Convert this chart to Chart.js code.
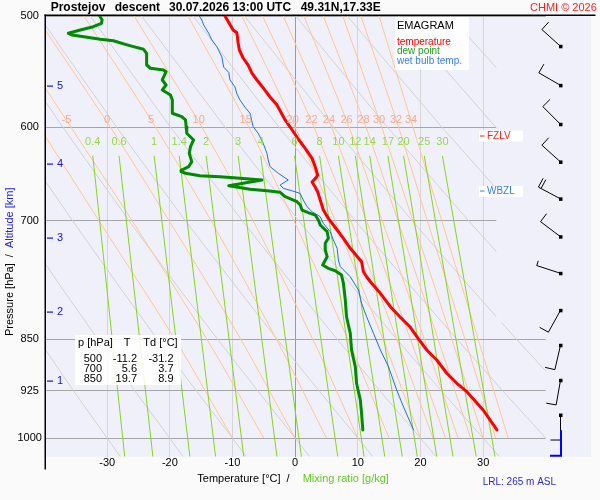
<!DOCTYPE html>
<html>
<head>
<meta charset="utf-8">
<script src="https://cdn.jsdelivr.net/npm/chart.js@4.4.1/dist/chart.umd.min.js"></script>
<style>
html, body { margin: 0; padding: 0; background: #fafafa; overflow: hidden; }
canvas { display: block; }
</style>
</head>
<body>
<canvas id="emagram" width="600" height="500"></canvas>
<script>
const FONT = "'Liberation Sans', Arial, sans-serif";
const PLOT_BG = '#f0f0fb';

// sounding profiles (pressure hPa / temperature degC)
const tempP = [500, 511.6, 514, 522.7, 528.7, 535.7, 541.9, 549.2, 555.4, 562.7, 571.1, 578.7, 593.1, 600, 612.9, 621.4, 631.7, 640.5, 649.4, 653, 656.6, 662.1, 667.6, 676.4, 687.6, 697.1, 700, 710.5, 720.3, 732.2, 748.5, 760.9, 767.2, 775.5, 788.4, 805.9, 819.3, 832.8, 850, 865.3, 879.6, 899, 913.9, 926.6, 954.9, 986.7];
const tempT = [-11.2, -9.9, -9.3, -9.1, -8.9, -8.3, -7.5, -6.9, -6.1, -5.1, -4.0, -2.9, -1.6, -0.8, 0.6, 1.6, 2.7, 3.2, 3.6, 3.2, 2.7, 3.2, 3.6, 4.0, 4.5, 5.3, 5.6, 6.7, 7.7, 8.8, 10.6, 10.9, 11.4, 12.2, 13.6, 15.2, 16.7, 18.3, 19.7, 21.0, 22.6, 24.2, 25.8, 27.4, 30.0, 32.2];

const dewP = [500, 503.3, 506, 508.9, 511.6, 514.4, 515.8, 517.8, 519.5, 520.7, 523.8, 525.8, 528.1, 531.6, 541.9, 544.8, 546.4, 547.9, 555.4, 560, 564.6, 569.2, 574, 586.6, 589.9, 593.1, 599.7, 606.2, 612.9, 619.7, 626.5, 635.1, 640.4, 643.9, 645.6, 647.3, 649.9, 651, 652.7, 654.5, 660.7, 664.6, 666.2, 667.9, 672.7, 678.3, 682, 687.6, 690.6, 693.3, 699, 704.7, 712.5, 720.3, 726.2, 734.2, 742.4, 752.6, 756.7, 759.7, 765.1, 775.5, 797, 819.3, 841.9, 865.3, 889.4, 913.9, 939.3, 960.1, 986.7];
const dewT = [-31.2, -30.8, -30.9, -32.2, -34.3, -36.2, -35.6, -33.2, -31.1, -29.0, -27.1, -25.8, -24.2, -23.7, -23.7, -23.1, -21.0, -20.6, -21.2, -20.6, -21.2, -19.9, -19.6, -19.6, -18.1, -17.5, -17.4, -17.3, -16.2, -16.7, -16.9, -16.5, -17.0, -18.1, -18.2, -17.5, -15.2, -12.0, -8.8, -5.3, -10.6, -7.2, -4.5, -2.4, -1.6, 0.3, 0.8, 1.1, 2.1, 3.2, 3.7, 4.0, 5.1, 5.3, 4.8, 4.8, 5.1, 4.4, 5.3, 6.4, 7.4, 7.7, 8.0, 8.2, 8.8, 9.0, 9.6, 9.8, 10.4, 10.6, 10.8];

const wetP = [500, 503.3, 507.4, 514.4, 520, 525.8, 534.7, 543.8, 548.5, 555.4, 561.8, 568.1, 574, 580.9, 586.6, 599.7, 606.2, 616.3, 626.5, 633.4, 640.4, 647.3, 654.5, 659.9, 663.5, 667.3, 669.1, 676.4, 683.9, 689.5, 695.2, 702.8, 712.5, 722.3, 732.2, 746.4, 754.6, 767.2, 784.1, 801.3, 819.3, 841.9, 865.3, 889.4, 924, 950.2, 986.7];
const wetT = [-15.3, -14.9, -14.6, -13.8, -13.3, -12.5, -11.7, -11.4, -10.6, -10.4, -9.6, -9.3, -8.8, -8.0, -7.2, -6.7, -5.9, -5.1, -4.5, -4.3, -4.0, -2.7, -1.1, -2.4, -1.9, 0.0, 0.8, 1.3, 1.9, 2.7, 4.0, 4.5, 5.6, 6.1, 6.7, 6.9, 7.2, 8.8, 10.1, 10.6, 11.4, 12.5, 13.6, 14.9, 16.2, 17.3, 18.9];

// small table, lower left
const tableP = [500, 700, 850];
const tableT = [-11.2, 5.6, 19.7];
const tableTd = [-31.2, 3.7, 8.9];

// wind barbs (right column)
const barbP = [525.5, 560.3, 597.3, 635.4, 675.1, 718.4, 762.9, 810.7, 858.6, 909.4, 962.8];
const barbDir = [312, 300, 315, 312, 298, 307, 288, 209, 193, 190, 180];
const barbKt = [10, 10, 10, 10, 20, 10, 5, 10, 10, 10, 10];

// altitude marks (km) on the pressure axis
const altKm = [1, 2, 3, 4, 5];
const altP = [910, 813, 720, 638, 561];

const isobars = [500, 600, 700, 850, 925, 1000];
const isothermLabels = [-30, -20, -10, 0, 10, 20, 30];
const fzlvP = 609;
const wbzlP = 667;
const launchP = 987;

// mixing ratio lines (g/kg): dew point at top (629 hPa) and bottom (1031 hPa)
const mixRatio = [0.4, 0.6, 1, 1.4, 2, 3, 4, 6, 8, 10, 12, 14, 17, 20, 25, 30];
const mixTopT = [-32.3, -28.1, -22.5, -18.5, -14.2, -9.1, -5.5, -0.1, 3.9, 6.9, 9.6, 11.9, 14.8, 17.3, 20.6, 23.5];
const mixBottomT = [-27.2, -22.7, -16.8, -12.7, -8.2, -2.9, 1.0, 6.8, 11.0, 14.3, 17.1, 19.5, 22.6, 25.2, 28.9, 31.9];
const mixTopP = 629, mixBottomP = 1031, mixLabelP = 615;

// moist adiabats, labelled at ~593 hPa
const moistLevels = [1000, 850, 700, 600, 500];
const moistT1000 = [-10, -5, 0, 5, 10, 15, 20, 22, 24, 26, 28, 30, 32, 34];
const moistT850 = [-19.2, -14.1, -8.7, -3.0, 2.8, 8.4, 14.0, 16.2, 18.4, 20.6, 22.8, 25.0, 27.1, 29.2];
const moistT700 = [-31.3, -26.0, -20.1, -13.4, -6.7, -0.2, 6.4, 8.9, 11.4, 13.9, 16.4, 18.8, 21.1, 23.4];
const moistT600 = [-40.8, -35.8, -29.5, -22.3, -14.9, -7.4, 0.0, 3.0, 5.8, 8.6, 11.3, 13.8, 16.5, 18.8];
const moistT500 = [-52.0, -47.4, -41.4, -33.7, -25.7, -17.1, -8.5, -5.2, -1.9, 1.4, 4.5, 7.6, 10.5, 13.4];
const moistLabels = [-5, 0, 5, 10, 15, 20, 22, 24, 26, 28, 30, 32, 34];
const moistLabelT = [-36.5, -30.0, -23.0, -15.4, -7.9, -0.4, 2.6, 5.4, 8.2, 10.9, 13.4, 16.1, 18.5];
const moistLabelP = 593;

// dry adiabats (theta in degC), temperatures at dryLevels
const dryLevels = [1031, 1000, 925, 850, 775, 700, 600, 500];
const dryTheta = [-30, -20, -10, 0, 10, 20, 30, 40, 50, 60, 70, 80, 90];
const dryRows = [
  [-27.9, -30, -35.4, -41.0, -47.1, -53.6, -63.1, -73.7],
  [-17.9, -20, -25.6, -31.5, -37.8, -44.5, -54.4, -65.5],
  [-7.8, -10, -15.8, -22.0, -28.5, -35.5, -45.8, -57.3],
  [2.3, 0, -6.0, -12.4, -19.2, -26.5, -37.1, -49.1],
  [12.4, 10, 3.8, -2.9, -9.9, -17.5, -28.5, -40.9],
  [22.5, 20, 13.5, 6.7, -0.6, -8.4, -19.9, -32.7],
  [32.6, 30, 23.3, 16.2, 8.7, 0.6, -11.2, -24.5],
  [42.7, 40, 33.1, 25.8, 18.0, 9.6, -2.6, -16.3],
  [52.7, 50, 42.9, 35.3, 27.3, 18.7, 6.1, -8.1],
  [62.8, 60, 52.7, 44.9, 36.6, 27.7, 14.7, 0.1],
  [72.9, 70, 62.4, 54.4, 45.9, 36.7, 23.4, 8.3],
  [83.0, 80, 72.2, 64.0, 55.2, 45.8, 32.0, 16.5],
  [93.1, 90, 82.0, 73.5, 64.5, 54.8, 40.6, 24.7]
];

const pts = (ps, ts) => ps.map((p, i) => ({ x: ts[i], y: p }));
const line = (data, color, width, order, extra) => Object.assign({
  data, borderColor: color, borderWidth: width, showLine: true,
  pointRadius: 0, pointHoverRadius: 0, fill: false, order
}, extra || {});
const profileStyle = { borderJoinStyle: 'round', borderCapStyle: 'round' };

const datasets = [
  line(pts(tempP, tempT), '#ff0000', 3, 1, profileStyle),
  line(pts(dewP, dewT), '#008a00', 3, 2, profileStyle),
  line(pts(wetP, wetT), '#1f6fe8', 1, 3, profileStyle)
];
mixRatio.forEach((w, i) => {
  datasets.push(line([{ x: mixTopT[i], y: mixTopP }, { x: mixBottomT[i], y: mixBottomP }], '#86d41c', 1, 5));
});
moistT1000.forEach((t, i) => {
  datasets.push(line(pts(moistLevels, [t, moistT850[i], moistT700[i], moistT600[i], moistT500[i]]), '#ffc68e', 1, 6, { tension: 0.3 }));
});
dryTheta.forEach((th, i) => {
  datasets.push(line(pts(dryLevels, dryRows[i]), '#d2d2d2', 1, 7));
});

function txt(c, s, x, y, font, color, align) {
  c.font = font;
  c.fillStyle = color;
  c.textAlign = align || 'left';
  c.textBaseline = 'middle';
  c.fillText(s, x, y);
}

const emagramDecor = {
  id: 'emagramDecor',
  beforeDraw(chart) {
    const c = chart.ctx, a = chart.chartArea;
    c.save();
    c.fillStyle = '#fafafa';
    c.fillRect(0, 0, chart.width, chart.height);
    c.fillStyle = PLOT_BG;
    c.fillRect(a.left, a.top, 591 - a.left, a.bottom - a.top);
    c.restore();
  },
  afterDraw(chart) {
    const c = chart.ctx, a = chart.chartArea;
    const xs = chart.scales.x, ys = chart.scales.y;
    const X = v => xs.getPixelForValue(v);
    const Y = v => ys.getPixelForValue(v);
    c.save();

    // upper right part of the diagram is left empty
    c.fillStyle = PLOT_BG;
    c.fillRect(X(32.1), a.top + 1, a.right - X(32.1) + 1, Y(826) - a.top);

    // line labels
    moistLabels.forEach((v, i) => txt(c, String(v), X(moistLabelT[i]), Y(moistLabelP), '11px ' + FONT, '#f8aa92', 'center'));
    mixRatio.forEach((w, i) => txt(c, String(w), X(mixTopT[i]), Y(mixLabelP), '11px ' + FONT, '#95d84c', 'center'));

    // legend
    c.fillStyle = 'rgba(255,255,255,0.92)';
    c.fillRect(395, 17, 74, 53);
    txt(c, 'EMAGRAM', 397, 26, '11px ' + FONT, '#000');
    txt(c, 'temperature', 397, 42, '10px ' + FONT, '#ff0000');
    txt(c, 'dew point', 397, 51.7, '10px ' + FONT, '#22a022');
    txt(c, 'wet bulb temp.', 397, 61.7, '10px ' + FONT, '#3a80ee');

    // value table
    c.fillStyle = 'rgba(255,255,255,0.88)';
    c.fillRect(75, 335, 106, 50);
    txt(c, 'p [hPa]', 78, 343.3, '11px ' + FONT, '#000');
    txt(c, 'T', 127, 343.3, '11px ' + FONT, '#000', 'center');
    txt(c, 'Td [°C]', 143.3, 343.3, '11px ' + FONT, '#000');
    tableP.forEach((p, i) => {
      const y = 359 + i * 10.2;
      txt(c, String(p), 102, y, '11px ' + FONT, '#000', 'right');
      txt(c, tableT[i].toFixed(1), 137, y, '11px ' + FONT, '#000', 'right');
      txt(c, tableTd[i].toFixed(1), 173.5, y, '11px ' + FONT, '#000', 'right');
    });

    // freezing level / wet bulb zero
    [[fzlvP, 'FZLV', '#ff2020'], [wbzlP, 'WBZL', '#3a7be0']].forEach(([p, s, col]) => {
      const y = Y(p);
      c.fillStyle = '#ffffff';
      c.fillRect(479, y - 5.5, 44, 11);
      c.fillStyle = col;
      c.fillRect(480, Math.round(y) - 0.5, 4.5, 1);
      txt(c, s, 487, y, '10px ' + FONT, col);
    });

    // wind barbs
    c.strokeStyle = '#000';
    c.lineWidth = 1;
    barbP.forEach((p, i) => {
      const x0 = 560.5, y0 = Y(p);
      const r = barbDir[i] * Math.PI / 180;
      const ux = Math.sin(r), uy = -Math.cos(r);
      const nx = -uy, ny = ux;
      const ex = x0 + ux * 25, ey = y0 + uy * 25;
      c.beginPath();
      c.moveTo(x0, y0);
      c.lineTo(ex, ey);
      let s = barbKt[i], off = 0;
      while (s >= 10) {
        const bx = ex - ux * off, by = ey - uy * off;
        c.moveTo(bx, by);
        c.lineTo(bx + nx * 10, by + ny * 10);
        s -= 10; off += 3;
      }
      if (s >= 5) {
        const bx = ex - ux * off, by = ey - uy * off;
        c.moveTo(bx, by);
        c.lineTo(bx + nx * 5, by + ny * 5);
      }
      c.stroke();
      c.fillStyle = '#000';
      c.fillRect(x0 - 1.5, y0 - 1.5, 3.5, 3.5);
    });
    // launch level marker
    c.strokeStyle = '#0000ff';
    c.lineWidth = 2;
    c.beginPath();
    c.moveTo(561, Y(launchP));
    c.lineTo(561, a.bottom - 1);
    c.lineTo(550, a.bottom - 1);
    c.stroke();

    // altitude marks
    altKm.forEach((k, i) => {
      const y = Y(altP[i]);
      c.fillStyle = '#1414e0';
      c.fillRect(47, Math.round(y) - 0.5, 6, 1.2);
      txt(c, String(k), 57, y, '11px ' + FONT, '#1414e0');
    });

    // axes
    c.fillStyle = '#000';
    c.fillRect(44.5, 14.5, 1.5, 455);
    c.fillRect(44.5, 14.5, 551, 1.5);
    isobars.forEach(p => txt(c, String(p), 29.7, Y(p), '11px ' + FONT, '#000', 'center'));
    isothermLabels.forEach(t => txt(c, String(t), X(t), 462.5, '11px ' + FONT, '#000', 'center'));

    txt(c, 'Temperature [°C]', 197.3, 479, '11px ' + FONT, '#000');
    txt(c, '/', 288, 479, '11px ' + FONT, '#000', 'center');
    txt(c, 'Mixing ratio [g/kg]', 302.7, 479, '11px ' + FONT, '#5fcc22');

    c.save();
    c.translate(9.5, 336);
    c.rotate(-Math.PI / 2);
    const head = 'Pressure [hPa]  /  ';
    txt(c, head, 0, 0, '11px ' + FONT, '#000');
    txt(c, 'Altitude [km]', c.measureText(head).width, 0, '11px ' + FONT, '#2222ee');
    c.restore();

    // header
    const tf = 'bold 12px ' + FONT;
    txt(c, 'Prostejov', 50.7, 7.5, tf, '#000');
    txt(c, 'descent', 114.7, 7.5, tf, '#000');
    txt(c, '30.07.2026 13:00 UTC', 169, 7.5, tf, '#000');
    txt(c, '49.31N,17.33E', 300.7, 7.5, tf, '#000');
    txt(c, 'CHMI © 2026', 530, 7.5, '11px ' + FONT, '#ff1e1e');
    txt(c, 'LRL: 265 m ASL', 482.7, 482, '10px ' + FONT, '#2a2ae0');

    c.restore();
  }
};

const chart = new Chart(document.getElementById('emagram').getContext('2d'), {
  type: 'scatter',
  data: { datasets },
  options: {
    responsive: false,
    animation: false,
    devicePixelRatio: 1,
    events: [],
    layout: { padding: { left: 44.5, right: 54.2, top: 16, bottom: 43.3 } },
    plugins: { legend: { display: false }, tooltip: { enabled: false } },
    scales: {
      x: {
        type: 'linear', min: -40, max: 40,
        ticks: { display: false, stepSize: 10 },
        grid: {
          drawTicks: false,
          color: ctx => ctx.tick.value === 0 ? '#9a9a9a' : (Math.abs(ctx.tick.value) === 40 ? 'rgba(0,0,0,0)' : '#d6d6d6')
        },
        border: { display: false }
      },
      y: {
        type: 'logarithmic', reverse: true, min: 500, max: 1031,
        afterBuildTicks: scale => { scale.ticks = isobars.map(v => ({ value: v })); },
        ticks: { display: false },
        grid: { drawTicks: false, color: '#a6a6a6' },
        border: { display: false }
      }
    }
  },
  plugins: [emagramDecor]
});
</script>
</body>
</html>
